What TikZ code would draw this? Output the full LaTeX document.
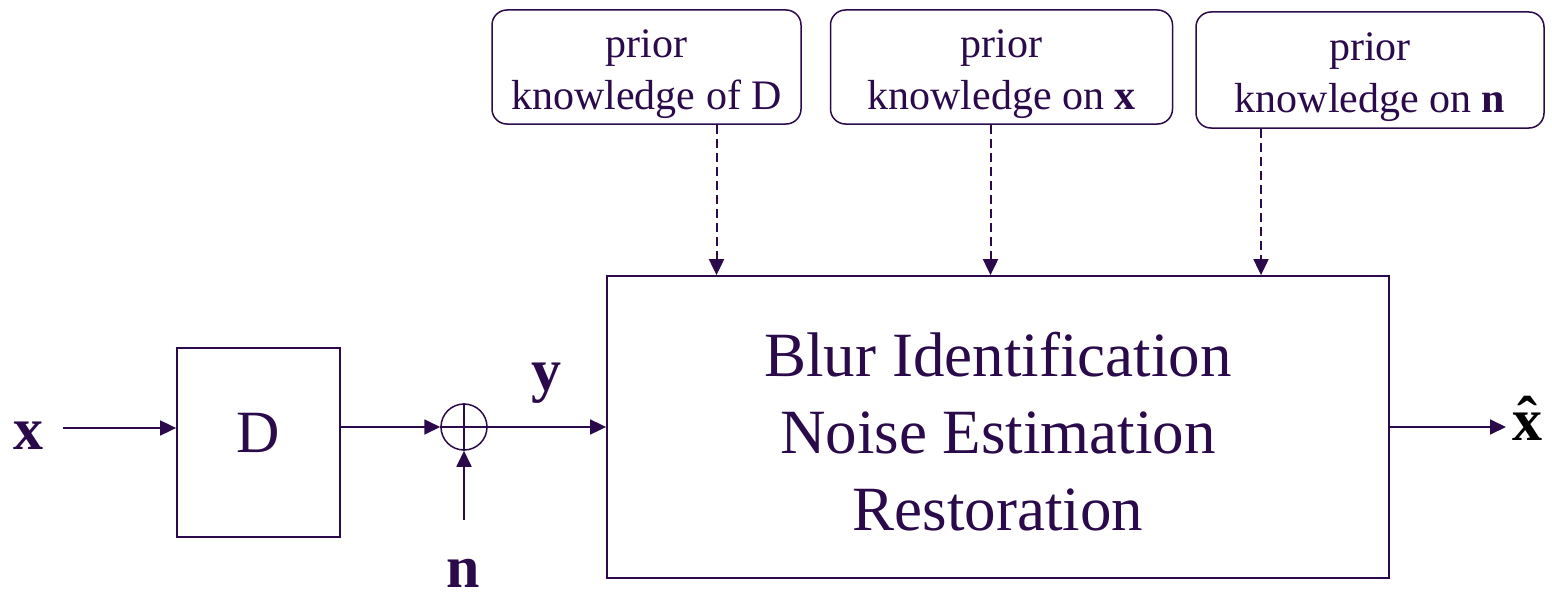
\documentclass[tikz,border=0pt]{standalone}
\usepackage{fontspec}
\setmainfont{Liberation Serif}
\usetikzlibrary{arrows.meta,positioning}
\definecolor{ink}{RGB}{42,10,74}
\newcommand{\priorgap}{\rule{0pt}{43pt}}

\begin{document}
\begin{tikzpicture}[x=1pt,y=-1pt]
      \tikzset{
        node distance=28pt,
        every node/.style={inner sep=0pt,text=ink},
        blk/.style={draw=ink,line width=1.8pt},
        prior/.style={draw=ink,line width=1.5pt,rounded corners=15pt,align=center,
          font=\fontsize{42}{52}\selectfont,minimum height=114pt},
        sig/.style={font=\fontsize{60}{60}\selectfont\bfseries},
        arr/.style={draw=ink,line width=1.8pt,-{Triangle[length=16pt,width=15pt]}},
        darr/.style={arr,line width=2pt,dash pattern=on 9pt off 5pt}
      }
      \useasboundingbox (0,0) rectangle (1552,594);

      \node[sig] (xin) at (28,436) {x};
      \node[blk,minimum width=163pt,minimum height=189pt,text depth=20pt,
        font=\fontsize{60}{60}\selectfont] (D) at (258.5,442.5) {D};
      \node[blk,circle,line width=1.5pt,minimum size=46pt] (sum) at (464,427) {};
      \node[sig] (n) at (463,573) {n};
      \node[sig] (y) at (546,383) {y};
      \node[blk,minimum width=782pt,minimum height=302pt,align=center,
        font=\fontsize{63}{77}\selectfont] (main) at (998,427)
        {\rule{0pt}{53pt}Blur Identification\\Noise Estimation\\Restoration};
      \node[sig,anchor=west,text=black] (xhat) at (1512,427)
        {\ooalign{x\cr\hidewidth\raisebox{2pt}{ˆ}\hidewidth\cr}};

      \node[prior,minimum width=309pt] (p1) at (646.5,67) {\priorgap prior\\knowledge of D};
      \node[prior,minimum width=342pt,right=of p1] (p2) {\priorgap prior\\knowledge on \textbf{x}};
      \node[prior,minimum width=348pt,minimum height=116pt,right=22pt of p2,yshift=-3pt] (p3)
        {\priorgap prior\\knowledge on \textbf{n}};

      \coordinate (xs) at (63,428);
      \coordinate (ns) at (464,520);

      \draw[ink,line width=1.5pt] (sum.north) -- (sum.south) (sum.west) -- (sum.east);
      \draw[arr] (xs) -- (D.west |- xs);
      \draw[arr] (D.east |- sum) -- (sum.west);
      \draw[arr] (ns) -- (sum.south);
      \draw[arr] (sum.east) -- (main.west |- sum);
      \draw[arr] (main.east |- sum) -- ([xshift=-6pt]xhat.west);
      \draw[darr] ([xshift=70pt]p1.south) -- ([xshift=70pt]p1.south |- main.north);
      \draw[darr] ([xshift=-11pt]p2.south) -- ([xshift=-11pt]p2.south |- main.north);
      \draw[darr] ([xshift=-109pt]p3.south) -- ([xshift=-109pt]p3.south |- main.north);
    \end{tikzpicture}
\end{document}
